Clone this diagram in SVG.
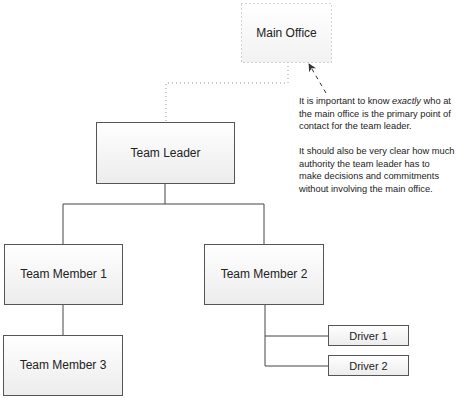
<svg xmlns="http://www.w3.org/2000/svg" width="461" height="400" viewBox="0 0 461 400">
<defs>
<linearGradient id="g" x1="0" y1="0" x2="0" y2="1">
<stop offset="0" stop-color="#ffffff"/>
<stop offset="1" stop-color="#ececec"/>
</linearGradient>
<linearGradient id="g2" x1="0" y1="0" x2="0" y2="1">
<stop offset="0" stop-color="#ffffff"/>
<stop offset="1" stop-color="#f2f2f2"/>
</linearGradient>
<marker id="ah" viewBox="0 0 10 10" refX="9" refY="5" markerWidth="8" markerHeight="8" orient="auto" markerUnits="userSpaceOnUse">
<path d="M0,0 L10,5 L0,10 L3,5 Z" fill="#333"/>
</marker>
</defs>
<style>
.box{fill:url(#g);stroke:#555;stroke-width:1}
.lbl{font-family:"Liberation Sans",Arial,sans-serif;font-size:12px;fill:#222;text-anchor:middle}
.dl{font-family:"Liberation Sans",Arial,sans-serif;font-size:11px;fill:#222;text-anchor:middle}
.note{font-family:"Liberation Sans",Arial,sans-serif;font-size:9.3px;fill:#222}
.ln{fill:none;stroke:#444;stroke-width:1}
</style>
<rect width="461" height="400" fill="#fff"/>
<g id="connectors">
<path d="M288,62 V83 H166 V122" fill="none" stroke="#999" stroke-width="1" stroke-dasharray="1,3"/>
<path class="ln" d="M165,184 V204 M63,204 H264 M63,204 V244 M264,204 V244 M63,305 V335 M265,305 V366 H328 M265,336 H328"/>
<line x1="326" y1="93" x2="309" y2="64" stroke="#333" stroke-width="1" stroke-dasharray="4,4" marker-end="url(#ah)"/>
</g>
<g id="main-office">
<rect x="241.5" y="3.5" width="90" height="59" fill="url(#g2)" stroke="#aaa" stroke-dasharray="1,3"/>
<text class="lbl" x="286.5" y="37">Main Office</text>
</g>
<g id="team-leader">
<rect class="box" x="96.5" y="122.5" width="138" height="61"/>
<text class="lbl" x="165.5" y="157">Team Leader</text>
</g>
<g id="team-member-1">
<rect class="box" x="4.5" y="244.5" width="118" height="60"/>
<text class="lbl" x="63.5" y="278">Team Member 1</text>
</g>
<g id="team-member-2">
<rect class="box" x="204.5" y="244.5" width="119" height="60"/>
<text class="lbl" x="264" y="278">Team Member 2</text>
</g>
<g id="team-member-3">
<rect class="box" x="3.5" y="335.5" width="119" height="60"/>
<text class="lbl" x="63" y="369">Team Member 3</text>
</g>
<g id="driver-1">
<rect class="box" x="328.5" y="325.5" width="80" height="20"/>
<text class="dl" x="368.5" y="339.5">Driver 1</text>
</g>
<g id="driver-2">
<rect class="box" x="328.5" y="355.5" width="80" height="20"/>
<text class="dl" x="368.5" y="369.5">Driver 2</text>
</g>
<g id="note">
<text class="note" x="299" y="104">It is important to know <tspan font-style="italic">exactly</tspan> who at</text>
<text class="note" x="299" y="117">the main office is the primary point of</text>
<text class="note" x="299" y="129">contact for the team leader.</text>
<text class="note" x="299" y="154">It should also be very clear how much</text>
<text class="note" x="299" y="167">authority the team leader has to</text>
<text class="note" x="299" y="179">make decisions and commitments</text>
<text class="note" x="299" y="192">without involving the main office.</text>
</g>
</svg>
